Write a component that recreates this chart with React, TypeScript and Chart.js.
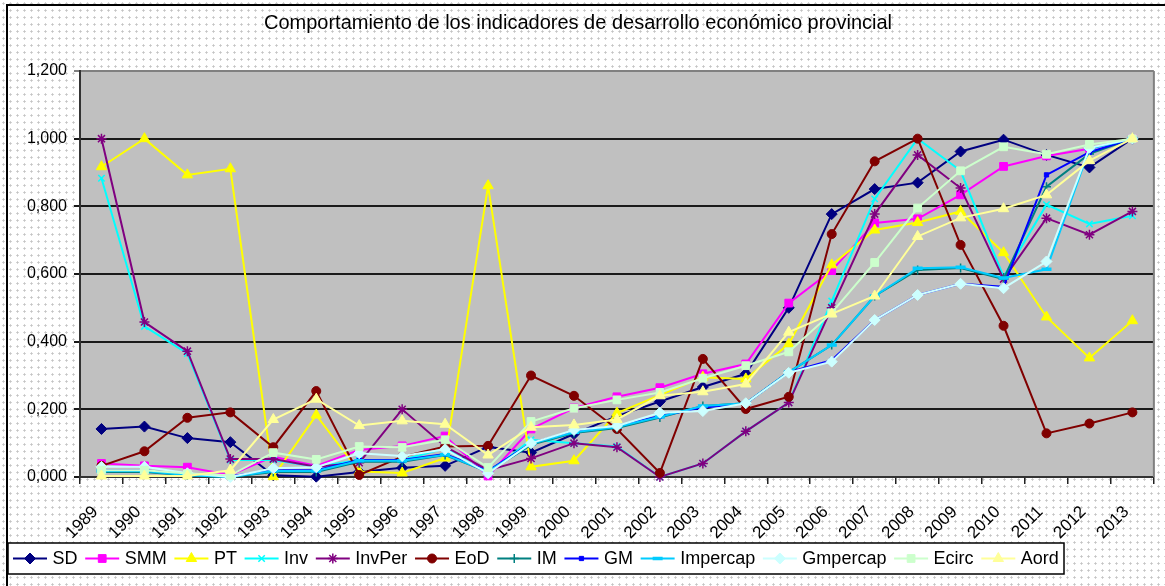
import React, { useEffect, useRef } from 'react';
import { Chart, registerables } from 'chart.js';
import { drawPoint } from 'chart.js/helpers';

Chart.register(...registerables);

const years = ['1989','1990','1991','1992','1993','1994','1995','1996','1997','1998','1999','2000','2001','2002','2003','2004','2005','2006','2007','2008','2009','2010','2011','2012','2013'];

const SD = [0.142, 0.149, 0.115, 0.103, 0.005, 0.001, 0.015, 0.027, 0.033, 0.089, 0.072, 0.127, 0.18, 0.223, 0.266, 0.305, 0.5, 0.777, 0.851, 0.87, 0.962, 0.997, 0.952, 0.915, 1.0];
const SMM = [0.04, 0.033, 0.029, 0.006, 0.06, 0.033, 0.08, 0.092, 0.121, 0.003, 0.142, 0.204, 0.237, 0.264, 0.305, 0.334, 0.514, 0.61, 0.751, 0.763, 0.834, 0.918, 0.949, 0.97, 1.0];
const PT = [0.917, 1.0, 0.893, 0.911, 0.001, 0.183, 0.016, 0.012, 0.056, 0.861, 0.03, 0.048, 0.189, 0.242, 0.295, 0.29, 0.393, 0.627, 0.73, 0.752, 0.785, 0.663, 0.473, 0.352, 0.462];
const Inv = [0.883, 0.445, 0.365, 0.05, 0.05, 0.03, 0.05, 0.05, 0.085, 0.01, 0.11, 0.1, 0.09, 0.0, 0.04, 0.135, 0.22, 0.52, 0.822, 1.0, 0.905, 0.592, 0.805, 0.748, 0.772];
const InvPer = [1.0, 0.458, 0.372, 0.053, 0.053, 0.03, 0.042, 0.2, 0.09, 0.02, 0.055, 0.1, 0.088, 0.0, 0.04, 0.135, 0.22, 0.5, 0.777, 0.952, 0.854, 0.585, 0.765, 0.716, 0.785];
const EoD = [0.033, 0.076, 0.175, 0.191, 0.088, 0.254, 0.006, 0.06, 0.09, 0.092, 0.3, 0.24, 0.142, 0.012, 0.349, 0.201, 0.237, 0.718, 0.933, 1.0, 0.686, 0.447, 0.129, 0.158, 0.191];
const IM = [0.015, 0.015, 0.005, 0.0, 0.015, 0.015, 0.045, 0.045, 0.065, 0.015, 0.095, 0.13, 0.145, 0.176, 0.21, 0.218, 0.31, 0.39, 0.535, 0.612, 0.618, 0.585, 0.858, 0.955, 1.0];
const GM = [0.02, 0.02, 0.008, 0.002, 0.02, 0.02, 0.05, 0.05, 0.068, 0.018, 0.1, 0.135, 0.15, 0.18, 0.205, 0.218, 0.31, 0.345, 0.464, 0.538, 0.571, 0.562, 0.893, 0.96, 1.0];
const Impercap = [0.018, 0.018, 0.005, 0.0, 0.018, 0.018, 0.048, 0.048, 0.066, 0.016, 0.098, 0.132, 0.148, 0.178, 0.21, 0.218, 0.31, 0.39, 0.535, 0.617, 0.62, 0.588, 0.614, 0.97, 1.0];
const Gmpercap = [0.03, 0.03, 0.011, 0.0, 0.026, 0.029, 0.07, 0.062, 0.082, 0.011, 0.1, 0.139, 0.151, 0.19, 0.195, 0.218, 0.308, 0.341, 0.464, 0.538, 0.571, 0.558, 0.637, 0.973, 1.0];
const Ecirc = [0.02, 0.02, 0.01, 0.005, 0.072, 0.052, 0.09, 0.088, 0.11, 0.028, 0.164, 0.203, 0.228, 0.25, 0.292, 0.329, 0.37, 0.485, 0.634, 0.795, 0.905, 0.976, 0.954, 0.983, 1.0];
const Aord = [0.003, 0.003, 0.003, 0.02, 0.17, 0.23, 0.152, 0.166, 0.156, 0.065, 0.147, 0.154, 0.17, 0.24, 0.252, 0.275, 0.428, 0.482, 0.535, 0.711, 0.766, 0.793, 0.834, 0.935, 1.0];

const seriesNames = ['SD', 'SMM', 'PT', 'Inv', 'InvPer', 'EoD', 'IM', 'GM', 'Impercap', 'Gmpercap', 'Ecirc', 'Aord'];
const seriesData = [SD, SMM, PT, Inv, InvPer, EoD, IM, GM, Impercap, Gmpercap, Ecirc, Aord];

const TITLE = 'Comportamiento de los indicadores de desarrollo económico provincial';

const seriesColors = ['#000080', '#FF00FF', '#FFFF00', '#00FFFF', '#800080', '#800000', '#008080', '#0000FF', '#00CCFF', '#CCFFFF', '#CCFFCC', '#FFFF99'];
const pointStyles = ['rectRot', 'rect', 'triangle', 'crossRot', 'star', 'circle', 'cross', 'rect', 'line', 'rectRot', 'rect', 'triangle'];
const pointRadii = [5.5, 5.5, 6, 4.5, 5, 4.5, 4.5, 3, 5, 5.5, 5.5, 6];
const pointBorderWidths = [1, 1, 1, 1.5, 1.5, 1, 1.5, 1, 3.5, 1, 1, 1];

const FONT = '"Liberation Sans", Arial, sans-serif';

export default function App() {
  const ref = useRef<HTMLCanvasElement>(null);

  useEffect(() => {
    document.body.style.margin = '0';
    const canvas = ref.current!;

    const bgPlugin = {
      id: 'plotBg',
      beforeDraw(chart: any) {
        const { ctx, chartArea } = chart;
        ctx.save();
        ctx.fillStyle = '#C0C0C0';
        ctx.fillRect(chartArea.left, chartArea.top, chartArea.right - chartArea.left, chartArea.bottom - chartArea.top);
        ctx.restore();
      },
      afterDatasetsDraw(chart: any) {
        const { ctx, chartArea } = chart;
        ctx.save();
        ctx.strokeStyle = '#808080';
        ctx.lineWidth = 2;
        ctx.beginPath();
        ctx.moveTo(chartArea.right, chartArea.top);
        ctx.lineTo(chartArea.right, chartArea.bottom);
        ctx.stroke();
        ctx.restore();
      },
    };

    const titleLegendPlugin = {
      id: 'titleLegend',
      afterDraw(chart: any) {
        const { ctx } = chart;
        ctx.save();
        ctx.fillStyle = '#000';
        ctx.font = `20px ${FONT}`;
        ctx.textAlign = 'center';
        ctx.textBaseline = 'middle';
        ctx.fillText(TITLE, 578, 23);

        const bx = 8, by = 543, bw = 1056, bh = 31;
        ctx.fillStyle = '#FFFFFF';
        ctx.fillRect(bx, by, bw, bh);
        ctx.strokeStyle = '#000';
        ctx.lineWidth = 1.5;
        ctx.strokeRect(bx, by, bw, bh);

        ctx.font = `18px ${FONT}`;
        ctx.textAlign = 'left';
        ctx.textBaseline = 'middle';
        const cy = by + bh / 2;
        let x = 13;
        chart.data.datasets.forEach((ds: any) => {
          const lineLen = 34;
          ctx.strokeStyle = ds.borderColor;
          ctx.fillStyle = ds.borderColor;
          ctx.lineWidth = 2;
          ctx.beginPath();
          ctx.moveTo(x, cy);
          ctx.lineTo(x + lineLen, cy);
          ctx.stroke();
          ctx.lineWidth = ds.pointBorderWidth;
          drawPoint(ctx, { pointStyle: ds.pointStyle, radius: ds.pointRadius, borderWidth: ds.pointBorderWidth, rotation: 0 } as any, x + lineLen / 2, cy);
          x += lineLen + 5.5;
          ctx.fillStyle = '#000';
          ctx.fillText(ds.label, x, cy + 1);
          x += ctx.measureText(ds.label).width + 7.7;
        });
        ctx.restore();
      },
    };

    const datasets = seriesNames.map((name, i) => ({
      label: name,
      data: seriesData[i],
      borderColor: seriesColors[i],
      backgroundColor: seriesColors[i],
      pointBackgroundColor: seriesColors[i],
      pointBorderColor: seriesColors[i],
      pointStyle: pointStyles[i],
      pointRadius: pointRadii[i],
      pointBorderWidth: pointBorderWidths[i],
      borderWidth: 2,
      tension: 0,
      fill: false,
      clip: false,
      order: seriesNames.length - i,
    }));

    const chart = new Chart(canvas, {
      type: 'line',
      data: { labels: years, datasets },
      options: {
        responsive: false,
        animation: false,
        devicePixelRatio: 1,
        layout: { padding: { left: 8, right: 7, top: 71, bottom: 0 } },
        plugins: {
          legend: { display: false },
          title: { display: false },
          tooltip: { enabled: false },
        },
        scales: {
          x: {
            type: 'category',
            offset: true,
            afterFit: (s: any) => { s.height = 109; },
            grid: {
              display: true,
              drawOnChartArea: false,
              drawTicks: true,
              tickLength: 7,
              offset: true,
              color: '#222',
              lineWidth: 1.5,
            },
            border: { display: true, color: '#333', width: 2 },
            ticks: {
              autoSkip: false,
              maxRotation: 45,
              minRotation: 45,
              padding: 18,
              labelOffset: -6,
              color: '#000',
              font: { family: FONT, size: 17 },
            },
          },
          y: {
            min: 0,
            max: 1.2,
            afterFit: (s: any) => { s.width = 72; },
            grid: {
              color: (c: any) => (c.tick && c.tick.value > 1.19 ? '#808080' : '#1a1a1a'),
              lineWidth: 2,
              drawTicks: true,
              tickLength: 6,
            },
            border: { display: true, color: '#333', width: 2 },
            ticks: {
              stepSize: 0.2,
              padding: 7,
              color: '#000',
              font: { family: FONT, size: 16 },
              callback: (v: any) => Number(v).toFixed(3).replace('.', ','),
            },
          },
        },
      },
      plugins: [bgPlugin, titleLegendPlugin],
    } as any);

    return () => chart.destroy();
  }, []);

  return (
    <div
      style={{
        position: 'relative',
        width: 1165,
        height: 586,
        overflow: 'hidden',
        backgroundColor: '#ffffff',
        backgroundImage: 'radial-gradient(circle, #c4c4c4 0.9px, transparent 1.3px)',
        backgroundSize: '7px 7px',
      }}
    >
      <div
        style={{
          position: 'absolute',
          left: 6,
          top: 4,
          width: 1300,
          height: 800,
          border: '2px solid #000',
          boxSizing: 'border-box',
        }}
      />
      <canvas ref={ref} width={1165} height={586} style={{ position: 'absolute', left: 0, top: 0, width: 1165, height: 586 }} />
    </div>
  );
}
